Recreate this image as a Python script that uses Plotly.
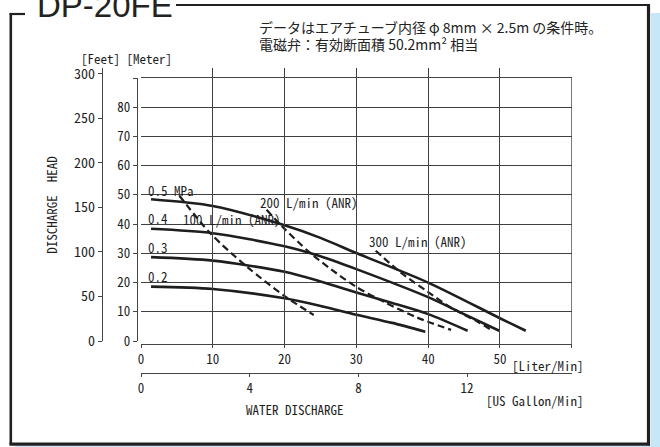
import plotly.graph_objects as go

# ---------------- data ----------------
# performance curves: water discharge (L/min) vs discharge head (m)
flow_05 = [1.4, 10, 20, 25, 30, 40, 50, 53.6]
head_05 = [48.5, 46.2, 39.6, 35.3, 30.1, 20.0, 7.8, 3.5]
flow_04 = [1.4, 10, 20, 25, 30, 40, 45, 49.9]
head_04 = [38.4, 36.9, 32.4, 29.0, 24.6, 15.0, 9.2, 3.5]
flow_03 = [1.4, 10, 20, 25, 30, 35, 40, 45.5]
head_03 = [28.7, 27.5, 23.7, 20.4, 16.6, 13.0, 9.2, 3.5]
flow_02 = [1.4, 10, 20, 25, 30, 35, 39.6]
head_02 = [18.6, 17.8, 14.6, 12.0, 9.0, 6.2, 3.2]

# air consumption lines (dashed)
flow_a100 = [5.35, 9.64, 14.76, 20.1, 24.06]
head_a100 = [49.7, 36.9, 25.4, 15.2, 8.9]
flow_a200 = [17.5, 19.7, 23.4, 26.5, 30, 34, 38.5, 43.2]
head_a200 = [44.9, 39.1, 30.5, 24.5, 18.5, 13.2, 8.0, 3.8]
flow_a300 = [32.7, 36.2, 39.9, 43.2, 46.9, 48.8]
head_a300 = [30.9, 23.4, 16.9, 11.4, 6.6, 3.8]

pressure_labels = ["0.5 MPa", "0.4", "0.3", "0.2"]
air_labels = ["100 L/min (ANR)", "200 L/min (ANR)", "300 L/min (ANR)"]

liter_ticks = [0, 10, 20, 30, 40, 50, 60]
liter_ticktext = ["0", "10", "20", "30", "40", "50", ""]
gallon_ticks = [0, 4, 8, 12]
meter_ticks = [0, 10, 20, 30, 40, 50, 60, 70, 80, 90]
meter_ticktext = ["0", "10", "20", "30", "40", "50", "60", "70", "80", ""]
feet_ticks = [0, 50, 100, 150, 200, 250, 300]

title_text = "DP-20FE"
note1 = "データはエアチューブ内径 φ 8mm × 2.5m の条件時。"
note2 = "電磁弁：有効断面積 50.2mm² 相当"

# ---------------- layout helpers ----------------
W, H = 660, 447
def px(x):
    return x / W
def py(y):
    return 1 - y / H

X0, X1 = 141, 571.7          # plot area in pixels (0..60 L/min)
YTOP, YAX, Y0 = 78, 344, 341  # 90 m, liter axis line, 0 m
PPM = (Y0 - YTOP) / 90.0     # pixels per metre
ymin_main = -(YAX - Y0) / PPM

MONO = "Noto Sans Mono CJK JP, Liberation Mono, monospace"
INK = "#1e1e1e"

fig = go.Figure()

curves = [(flow_05, head_05), (flow_04, head_04), (flow_03, head_03), (flow_02, head_02)]
for fx, hy in curves:
    fig.add_trace(go.Scatter(x=fx, y=hy, mode="lines",
                             line=dict(color=INK, width=2.6, shape="spline", smoothing=0.8),
                             showlegend=False, hoverinfo="skip"))
airs = [(flow_a100, head_a100), (flow_a200, head_a200), (flow_a300, head_a300)]
for fx, hy in airs:
    fig.add_trace(go.Scatter(x=fx, y=hy, mode="lines",
                             line=dict(color=INK, width=2.2, dash="7px,4px", shape="spline", smoothing=0.8),
                             showlegend=False, hoverinfo="skip"))

# dummy traces to make extra axes render
fig.add_trace(go.Scatter(x=[None], y=[None], xaxis="x2", yaxis="y", showlegend=False, hoverinfo="skip"))
fig.add_trace(go.Scatter(x=[None], y=[None], xaxis="x", yaxis="y2", showlegend=False, hoverinfo="skip"))
fig.add_trace(go.Scatter(x=[None], y=[None], xaxis="x", yaxis="y3", showlegend=False, hoverinfo="skip"))

grid_c = "#404040"
axis_c = "#444444"
tickfont = dict(family=MONO, size=13, color=INK)

fig.update_layout(
    width=W, height=H, autosize=False,
    margin=dict(l=0, r=0, t=0, b=0, pad=0, autoexpand=False),
    paper_bgcolor="white", plot_bgcolor="rgba(0,0,0,0)",
    showlegend=False,
    xaxis=dict(domain=[px(X0), px(X1)], range=[0, 60], tickmode="array",
               tickvals=liter_ticks, ticktext=liter_ticktext,
               showgrid=True, gridcolor=grid_c, gridwidth=1.2,
               showline=True, linecolor=axis_c, linewidth=1.3, mirror=True,
               ticks="outside", ticklen=3, tickcolor=axis_c, tickwidth=1.3,
               tickfont=tickfont, zeroline=False, fixedrange=True, anchor="y", automargin=False),
    xaxis2=dict(domain=[px(X0), px(X1)], range=[0, 60 / 3.785411784], overlaying="x",
                anchor="free", position=py(373.3), side="bottom",
                tickmode="array", tickvals=gallon_ticks,
                showgrid=False, showline=True, linecolor=axis_c, linewidth=1.3,
                ticks="outside", ticklen=3, tickcolor=axis_c, tickwidth=1.3,
                tickfont=tickfont, zeroline=False, fixedrange=True, automargin=False),
    yaxis=dict(domain=[py(YAX), py(YTOP)], range=[ymin_main, 90], tickmode="array",
               tickvals=[10, 20, 30, 40, 50, 60, 70, 80], showticklabels=False,
               showgrid=True, gridcolor=grid_c, gridwidth=1.2, showline=False,
               zeroline=False, fixedrange=True, anchor="x", automargin=False),
    yaxis2=dict(domain=[py(Y0), py(YTOP)], range=[0, 90], anchor="free", position=px(137),
                side="left", tickmode="array", tickvals=meter_ticks, ticktext=meter_ticktext,
                showgrid=False, showline=True, linecolor=axis_c, linewidth=1.3,
                ticks="outside", ticklen=4, tickcolor=axis_c, tickwidth=1.3,
                tickfont=tickfont, zeroline=False, fixedrange=True, automargin=False),
    yaxis3=dict(domain=[py(Y0), py(68)], range=[0, (Y0 - 68) / PPM * 3.28084], anchor="free",
                position=px(102), side="left", tickmode="array", tickvals=feet_ticks,
                showgrid=False, showline=True, linecolor=axis_c, linewidth=1.3,
                ticks="outside", ticklen=4, tickcolor=axis_c, tickwidth=1.3,
                tickfont=dict(family=MONO, size=14, color=INK), zeroline=False, fixedrange=True,
                automargin=False),
)

shapes = []
# plot border right
shapes.append(dict(type="line", xref="x", yref="y", x0=60, x1=60, y0=ymin_main, y1=90,
                   line=dict(color=grid_c, width=1.4)))
# light blue background strips
shapes.append(dict(type="rect", xref="paper", yref="paper", x0=px(651), x1=1, y0=0, y1=py(13),
                   fillcolor="#c6e7f8", line=dict(width=0), layer="below"))
shapes.append(dict(type="rect", xref="paper", yref="paper", x0=px(15), x1=1, y0=0, y1=py(445.5),
                   fillcolor="#c6e7f8", line=dict(width=0), layer="below"))
# frame
frame_c = "#202020"
def seg(x0, y0, x1, y1, w):
    shapes.append(dict(type="line", xref="paper", yref="paper", x0=px(x0), y0=py(y0),
                       x1=px(x1), y1=py(y1), line=dict(color=frame_c, width=w)))
seg(10.8, 13.5, 10.8, 444.5, 2.6)
seg(9.5, 14, 25, 14, 2.2)
seg(176, 5, 649.5, 5, 2.2)
seg(648.5, 3.9, 648.5, 445.5, 3.2)
seg(9.5, 444.2, 650, 444.2, 3.2)
fig.update_layout(shapes=shapes)

ann = []
def txt(text, x, y, size=13, family=MONO, xanchor="left", angle=0, color=INK, xref="paper", yref="paper"):
    ann.append(dict(text=text, x=x, y=y, xref=xref, yref=yref, xanchor=xanchor, yanchor="middle",
                    showarrow=False, textangle=angle, font=dict(family=family, size=size, color=color)))

# title and notes
txt(title_text, px(35), py(6), size=33, family="Liberation Sans, Arial, sans-serif", color="#222")
txt(note1, px(257), py(27), size=14, family="Noto Sans CJK JP, sans-serif", color="#222")
txt(note2, px(257), py(44), size=14, family="Noto Sans CJK JP, sans-serif", color="#222")

# axis titles
txt("[Feet] [Meter]", px(79), py(58.5), size=13)
txt("DISCHARGE  HEAD", px(50.7), py(205), size=13, xanchor="center", angle=-90)
txt("WATER DISCHARGE", px(244), py(409), size=13)
txt("[Liter/Min]", px(510), py(365.7), size=13)
txt("[US Gallon/Min]", px(484), py(400), size=13)

# curve labels (in data coords)
def mm(ypix):
    return (Y0 - ypix) / PPM
def lx(xpix):
    return (xpix - X0) / (X1 - X0) * 60
label_pos = [(146, 190), (146, 218.5), (146, 247.5), (146, 276.5)]
for t, (xx, yy) in zip(pressure_labels, label_pos):
    txt(t, lx(xx), mm(yy), xref="x", yref="y")
air_pos = [(180.5, 219), (258, 202.5), (366.5, 241.7)]
for t, (xx, yy) in zip(air_labels, air_pos):
    txt(t, lx(xx), mm(yy), xref="x", yref="y")

fig.update_layout(annotations=ann)
fig.write_html("out.html", config={"displayModeBar": False},
               post_script="document.body.style.margin='0px';document.body.style.overflow='hidden';")
